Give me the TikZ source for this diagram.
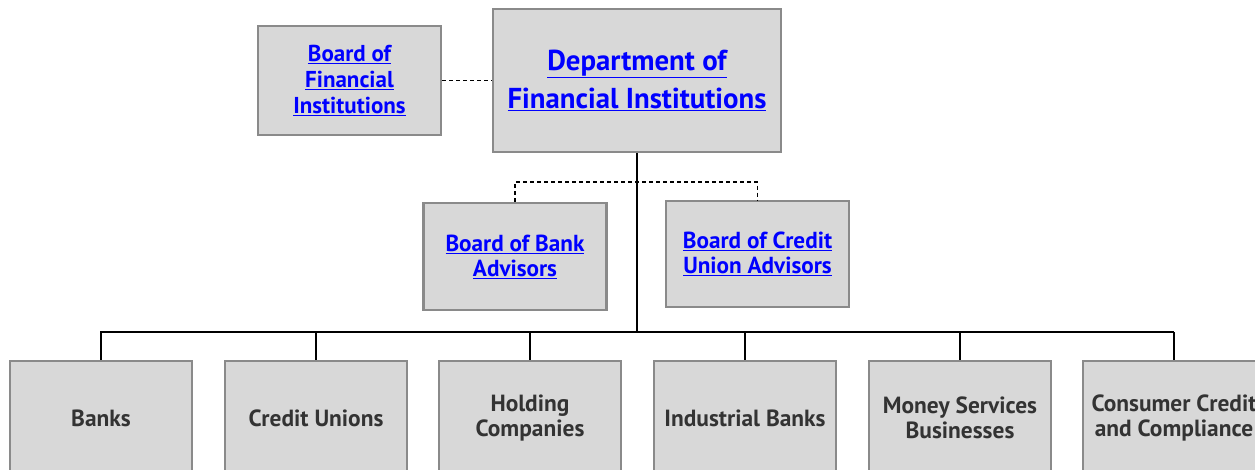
\documentclass[tikz,border=0pt]{standalone}
\usepackage{fontspec}
\setmainfont{PT Sans}
\usepackage{xcolor}
\usetikzlibrary{positioning}
\definecolor{boxfill}{HTML}{D8D8D8}
\definecolor{boxline}{HTML}{8A8A8A}
\definecolor{linkblue}{HTML}{0000FF}
\definecolor{unittext}{HTML}{333333}
\newcommand{\lnk}[1]{\underline{#1}}

\begin{document}
\begin{tikzpicture}[x=1pt,y=-1pt,line width=1.8pt,
	box/.style={draw=boxline,fill=boxfill,line width=2.4pt,align=center,inner sep=0pt},
	board/.style={box,minimum width=183pt,minimum height=108pt,text=linkblue,font=\bfseries\fontsize{23.2}{25}\selectfont},
	unit/.style={box,minimum width=182pt,minimum height=114pt,text=unittext,font=\bfseries\fontsize{23.4}{25}\selectfont},
	link/.style={dashed,dash pattern=on 4pt off 3pt,line width=1.5pt}]
			\clip (0,0) rectangle (1255,469);
			\node[box,minimum width=288pt,minimum height=143pt,text=linkblue,font=\bfseries\fontsize{28.8}{38}\selectfont] (dfi) at (637,80.5) {\lnk{Department of}\\\lnk{Financial Institutions}};
			\node[board,minimum height=109pt,font=\bfseries\fontsize{23}{26}\selectfont] (bfi) at (349.5,80.5) {\lnk{Board of}\\\lnk{Financial}\\\lnk{Institutions}};
			\node[board,minimum height=107pt] (bba) at (515,256.5) {\lnk{Board of Bank}\\\lnk{Advisors}};
			\node[board,minimum height=106pt] (bcu) at (757.5,254) {\lnk{Board of Credit}\\\lnk{Union Advisors}};
	
			\node[unit] (banks) at (101,418) {Banks};
			\node[unit] (cu)    at (316,418) {Credit Unions};
			\node[unit] (hc)    at (530,418) {Holding\\Companies};
			\node[unit] (ib)    at (745,418) {Industrial Banks};
			\node[unit] (msb)   at (960,418) {Money Services\\Businesses};
			\node[unit] (ccc)   at (1174,418) {Consumer Credit\\and Compliance};
	
			\coordinate (split) at (637,182);
			\coordinate (bus) at (637,332);
	
			\draw[link] (bfi) -- (dfi);
			\draw[link] (bba.north) |- (split) -| (bcu.north);
			\draw (dfi.south) -- (bus);
			\draw (banks.north) |- (bus);
			\draw[line width=2.4pt] (bus) -- (bus -| ccc.north);
			\foreach \u in {banks,cu,hc,ib,msb,ccc}
				\draw (\u.north) -- (\u.north |- bus);
			\end{tikzpicture}
\end{document}
